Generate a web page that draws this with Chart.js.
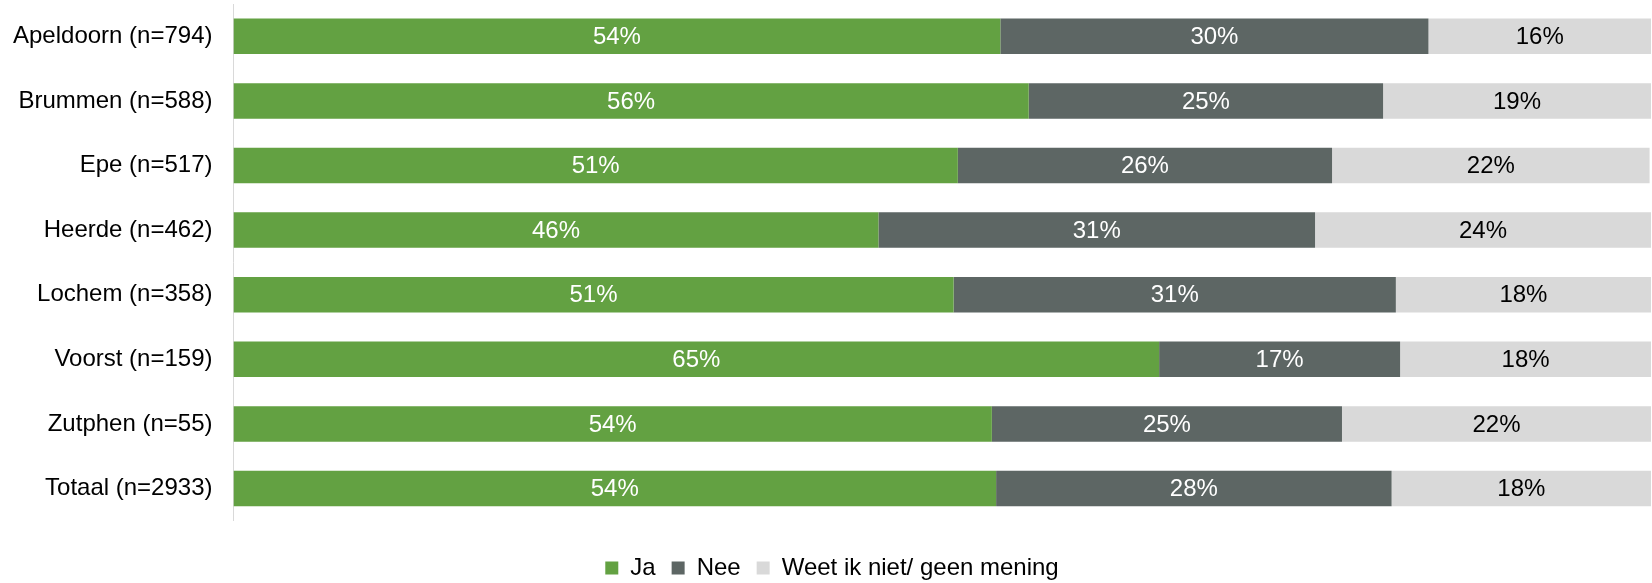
<!DOCTYPE html>
<html>
<head>
<meta charset="utf-8">
<script src="https://cdn.jsdelivr.net/npm/chart.js@4.4.1/dist/chart.umd.min.js"></script>
<style>
  html, body { margin: 0; padding: 0; background: #fff; }
  #wrap { width: 1652px; height: 583px; position: relative; }
</style>
</head>
<body>
<div id="wrap"><canvas id="chart"></canvas></div>
<script>
// categories
var gemeenten = [
  "Apeldoorn (n=794)",
  "Brummen (n=588)",
  "Epe (n=517)",
  "Heerde (n=462)",
  "Lochem (n=358)",
  "Voorst (n=159)",
  "Zutphen (n=55)",
  "Totaal (n=2933)"
];

// series values (percent)
var ja = [54.1, 56.1, 51.1, 45.5, 50.8, 65.3, 53.5, 53.8];
var nee = [30.2, 25.0, 26.4, 30.8, 31.2, 17.0, 24.7, 27.9];
var weetNiet = [15.7, 18.9, 22.4, 23.7, 18.0, 17.7, 21.8, 18.3];

var FONT = "'Liberation Sans', Arial, sans-serif";

// draws the percentage in the middle of each bar segment
var barLabels = {
  id: "barLabels",
  afterDatasetsDraw: function(chart) {
    var ctx = chart.ctx;
    ctx.save();
    ctx.font = "24px " + FONT;
    ctx.textAlign = "center";
    ctx.textBaseline = "middle";
    chart.data.datasets.forEach(function(ds, i) {
      var meta = chart.getDatasetMeta(i);
      meta.data.forEach(function(bar, j) {
        var mid = (bar.x + bar.base) / 2;
        ctx.fillStyle = ds.labelColor;
        ctx.fillText(Math.round(ds.data[j]) + "%", mid, bar.y + 1);
      });
    });
    ctx.restore();
  }
};

var ctx = document.getElementById("chart");
var myChart = new Chart(ctx, {
  type: "bar",
  data: {
    labels: gemeenten,
    datasets: [
      { label: "Ja", data: ja, backgroundColor: "#63a142", labelColor: "#ffffff" },
      { label: "Nee", data: nee, backgroundColor: "#5d6664", labelColor: "#ffffff" },
      { label: "Weet ik niet/ geen mening", data: weetNiet, backgroundColor: "#d9d9d9", labelColor: "#000000" }
    ]
  },
  options: {
    indexAxis: "y",
    responsive: true,
    maintainAspectRatio: false,
    animation: false,
    layout: { padding: { top: 4, right: 1, bottom: -7, left: 13 } },
    datasets: {
      bar: { categoryPercentage: 1, barPercentage: 0.55 }
    },
    scales: {
      x: {
        stacked: true,
        min: 0,
        max: 100,
        display: false
      },
      y: {
        stacked: true,
        grid: { display: false, drawTicks: true, tickLength: 21 },
        border: { display: true, color: "#d9d9d9", width: 1 },
        ticks: {
          color: "#000000",
          padding: 0,
          font: { family: FONT, size: 24, lineHeight: 0.3 }
        }
      }
    },
    plugins: {
      legend: {
        position: "bottom",
        title: { display: true, text: "", font: { size: 1 }, padding: { top: 0, bottom: 18 } },
        labels: {
          color: "#000000",
          boxWidth: 13,
          boxHeight: 13,
          padding: 16,
          font: { family: FONT, size: 24 }
        }
      },
      tooltip: { enabled: false }
    }
  },
  plugins: [barLabels]
});
</script>
</body>
</html>
